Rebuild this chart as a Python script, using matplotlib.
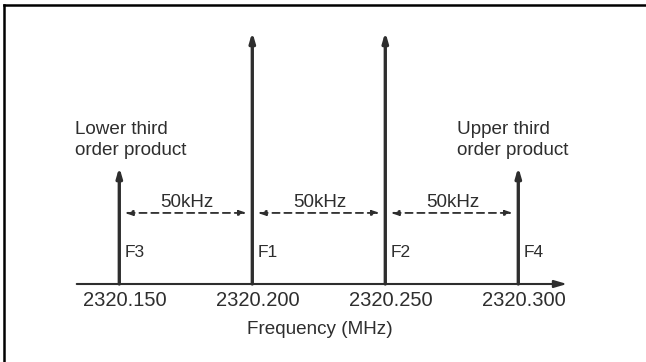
import matplotlib
matplotlib.use("Agg")
import matplotlib.pyplot as plt
from matplotlib.lines import Line2D

freqs = [2320.150, 2320.200, 2320.250, 2320.300]
tick_labels = ["2320.150", "2320.200", "2320.250", "2320.300"]
names = ["F3", "F1", "F2", "F4"]
amps = [0.464, 1.0, 1.0, 0.464]
spacing_label = "50kHz"
xlabel = "Frequency (MHz)"
lower_label = ["Lower third", "order product"]
upper_label = ["Upper third", "order product"]

plt.rcParams['font.family'] = ['Liberation Sans', 'DejaVu Sans']
col = "#2e2e2e"

fig = plt.figure(figsize=(6.46, 3.62), dpi=100)
ax = fig.add_axes([0, 0, 1, 1])
ax.set_xlim(2320.10515, 2320.34801)
ax.set_ylim(-78 / 252, 284 / 252)
ax.axis('off')

# frame (top and left)
fig.add_artist(Line2D([3.5/646, 3.5/646], [0, 1 - 4.5/362], transform=fig.transFigure, color="black", lw=1.8))
fig.add_artist(Line2D([3.5/646, 1], [1 - 4.5/362, 1 - 4.5/362], transform=fig.transFigure, color="black", lw=1.8))

# x axis arrow
ax.annotate("", xy=(2320.3183, 0), xytext=(2320.1340, 0),
            arrowprops=dict(arrowstyle="-|>,head_length=0.75,head_width=0.22", color=col, lw=1.5,
                            shrinkA=0, shrinkB=0))

for f, a, n, t in zip(freqs, amps, names, tick_labels):
    ax.annotate("", xy=(f, a), xytext=(f, 0),
                arrowprops=dict(arrowstyle="-|>,head_length=0.55,head_width=0.16", color=col, lw=2.4,
                                shrinkA=0, shrinkB=0))
    ax.text(f + 0.0020, 0.107, n, ha="left", va="baseline", fontsize=12.5, color=col)
    ax.text(f + 0.00225, -0.0873, t, ha="center", va="baseline", fontsize=14.5, color=col)

for i in range(len(freqs) - 1):
    x0, x1 = freqs[i], freqs[i + 1]
    ax.annotate("", xy=(x1 - 0.0020, 0.282), xytext=(x0 + 0.0020, 0.282),
                arrowprops=dict(arrowstyle="<|-|>,head_length=0.45,head_width=0.15", color=col, lw=1.3,
                                linestyle=(0, (4, 2.6)), shrinkA=0, shrinkB=0))
    ax.text((x0 + x1) / 2 + 0.0005, 0.3056, spacing_label, ha="center", va="baseline", fontsize=13.6, color=col)

for k, (lo, up) in enumerate(zip(lower_label, upper_label)):
    yb = [0.595, 0.512][k]
    ax.text(freqs[0] - 0.01665, yb, lo, ha="left", va="baseline", fontsize=13.6, color=col)
    ax.text(freqs[3] - 0.02305, yb, up, ha="left", va="baseline", fontsize=13.6, color=col)

ax.text((freqs[0] + freqs[3]) / 2 + 0.00045, -0.198, xlabel, ha="center", va="baseline", fontsize=13.6, color=col)

fig.savefig("out.png", dpi=100)
